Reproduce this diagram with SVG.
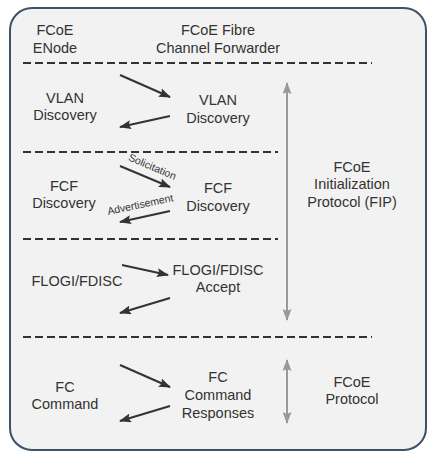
<svg xmlns="http://www.w3.org/2000/svg" width="435" height="458" viewBox="0 0 435 458">
<style>
text{font-family:"Liberation Sans",Arial,sans-serif;font-size:14.5px;fill:#333;text-anchor:middle}
.sm{font-size:10.5px}
.dash{stroke:#333;stroke-width:2;stroke-dasharray:8 4;fill:none}
.arr{stroke:#333;stroke-width:2;fill:none;marker-end:url(#ah)}
.garr{stroke:#999;stroke-width:2;fill:none;marker-end:url(#gh);marker-start:url(#gs)}
</style>
<defs>
<marker id="ah" viewBox="0 0 12 9" refX="11" refY="4.5" markerWidth="12" markerHeight="9" markerUnits="userSpaceOnUse" orient="auto"><path d="M0,0 L12,4.5 L0,9 L2,4.5 Z" fill="#333"/></marker>
<marker id="gh" viewBox="0 0 12 9" refX="11" refY="4.5" markerWidth="12" markerHeight="9" markerUnits="userSpaceOnUse" orient="auto"><path d="M0,0 L12,4.5 L0,9 L2,4.5 Z" fill="#999"/></marker>
<marker id="gs" viewBox="0 0 12 9" refX="1" refY="4.5" markerWidth="12" markerHeight="9" markerUnits="userSpaceOnUse" orient="auto"><path d="M12,0 L0,4.5 L12,9 L10,4.5 Z" fill="#999"/></marker>
</defs>
<rect x="10" y="8" width="416" height="442" rx="22" fill="#f2f2f2" stroke="#3e5266" stroke-width="2"/>
<g id="connectors">
<line class="dash" x1="23" y1="63" x2="372" y2="63"/>
<line class="dash" x1="23" y1="152" x2="278" y2="152"/>
<line class="dash" x1="23" y1="239" x2="278" y2="239"/>
<line class="dash" x1="23" y1="337" x2="372" y2="337"/>
<line class="arr" x1="120" y1="75" x2="170" y2="97"/>
<line class="arr" x1="170" y1="116" x2="120" y2="127"/>
<line class="arr" x1="120" y1="166" x2="170" y2="187"/>
<line class="arr" x1="170" y1="211" x2="120" y2="222"/>
<line class="arr" x1="122" y1="265" x2="168" y2="275"/>
<line class="arr" x1="170" y1="298" x2="120" y2="313"/>
<line class="arr" x1="120" y1="365" x2="170" y2="387"/>
<line class="arr" x1="170" y1="406" x2="120" y2="421"/>
<line class="garr" x1="287" y1="83" x2="287" y2="320"/>
<line class="garr" x1="287" y1="360" x2="287" y2="423"/>
<text class="sm" transform="translate(151,170) rotate(23)">Solicitation</text>
<text class="sm" transform="translate(141,208) rotate(-12)">Advertisement</text>
</g>
<g id="enode-header"><text x="55" y="35">FCoE</text><text x="55" y="53">ENode</text></g>
<g id="fcf-header"><text x="218" y="35">FCoE Fibre</text><text x="218" y="53">Channel Forwarder</text></g>
<g id="vlan-left"><text x="65" y="103">VLAN</text><text x="65" y="120">Discovery</text></g>
<g id="vlan-right"><text x="218" y="105">VLAN</text><text x="218" y="123">Discovery</text></g>
<g id="fcf-left"><text x="64" y="191">FCF</text><text x="64" y="208">Discovery</text></g>
<g id="fcf-right"><text x="218" y="193">FCF</text><text x="218" y="211">Discovery</text></g>
<g id="fip"><text x="352" y="172">FCoE</text><text x="352" y="189">Initialization</text><text x="352" y="207">Protocol (FIP)</text></g>
<g id="flogi-left"><text x="77" y="286">FLOGI/FDISC</text></g>
<g id="flogi-right"><text x="218" y="275">FLOGI/FDISC</text><text x="218" y="292">Accept</text></g>
<g id="fc-left"><text x="65" y="392">FC</text><text x="65" y="409">Command</text></g>
<g id="fc-right"><text x="218" y="382">FC</text><text x="218" y="400">Command</text><text x="218" y="418">Responses</text></g>
<g id="fcoe-protocol"><text x="352" y="387">FCoE</text><text x="352" y="404">Protocol</text></g>
</svg>
